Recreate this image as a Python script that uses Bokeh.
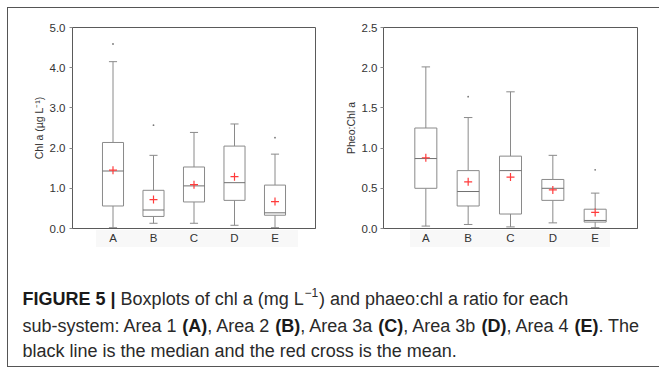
from bokeh.plotting import figure
from bokeh.models import Range1d, FixedTicker, PrintfTickFormatter
from bokeh.layouts import column, row
from bokeh.embed import file_html
from bokeh.resources import INLINE
from bokeh.core.properties import value

# Sub-systems
areas = ["A", "B", "C", "D", "E"]

# Chl a (µg L-1) box statistics per area
chl_whisker_low = [0.02, 0.13, 0.13, 0.08, 0.02]
chl_q1 = [0.56, 0.30, 0.66, 0.70, 0.33]
chl_median = [1.43, 0.46, 1.06, 1.14, 0.39]
chl_q3 = [2.14, 0.95, 1.53, 2.05, 1.08]
chl_whisker_high = [4.15, 1.82, 2.39, 2.60, 1.85]
chl_mean = [1.45, 0.72, 1.09, 1.29, 0.67]
chl_outlier_area = ["A", "B", "E"]
chl_outlier_value = [4.59, 2.57, 2.26]

# Pheo:Chl a ratio box statistics per area
pheo_whisker_low = [0.03, 0.05, 0.02, 0.07, 0.01]
pheo_q1 = [0.50, 0.28, 0.18, 0.35, 0.08]
pheo_median = [0.87, 0.46, 0.72, 0.50, 0.10]
pheo_q3 = [1.25, 0.72, 0.90, 0.61, 0.24]
pheo_whisker_high = [2.01, 1.38, 1.70, 0.91, 0.44]
pheo_mean = [0.88, 0.58, 0.64, 0.48, 0.20]
pheo_outlier_area = ["B", "E"]
pheo_outlier_value = [1.64, 0.73]

chl_ticks = [0.0, 1.0, 2.0, 3.0, 4.0, 5.0]
pheo_ticks = [0.0, 0.5, 1.0, 1.5, 2.0, 2.5]

FONT = "Liberation Sans"
BOX_W = 0.52
CAP_W = 0.2
LINE = "#8a8a8a"
MED = "#707070"
FRAME = "#5a5a5a"
TXT = "#333333"

# thin rules of the panel frame (top, left, bottom) and the faint bands
# behind the category labels, painted behind the transparent plot borders
RULE = "linear-gradient(#555555, #555555)"
BAND = "linear-gradient(#f8f8f8, #f8f8f8)"
PANEL_STYLE = {
    "background": (f"{RULE} 7px 7px / 652px 1px no-repeat, "
                   f"{RULE} 7px 7px / 1px 360px no-repeat, "
                   f"{RULE} 7px 366px / 652px 1px no-repeat, "
                   f"{BAND} 96px 230px / 202px 17px no-repeat, "
                   f"{BAND} 410px 230px / 200px 17px no-repeat, #ffffff"),
}


def boxplot(width, height, left, right, y_max, ticks, ylabel,
            lo, q1, med, q3, hi, mean, out_area, out_val, tick_standoff):
    pos = list(range(1, len(areas) + 1))
    p = figure(width=width, height=height, x_range=Range1d(0, len(areas) + 1),
               y_range=Range1d(0, y_max), toolbar_location=None,
               output_backend="svg", min_border_left=left,
               min_border_right=right, min_border_top=27,
               min_border_bottom=22, background_fill_color="white",
               border_fill_color=None)
    p.grid.visible = False
    p.outline_line_color = FRAME
    p.outline_line_width = 1

    # x axis: areas at integer positions
    p.xaxis.ticker = FixedTicker(ticks=pos)
    p.xaxis.major_label_overrides = {k: a for k, a in zip(pos, areas)}
    p.xaxis.major_tick_line_color = None
    p.xaxis.major_tick_out = 0
    p.xaxis.major_tick_in = 0
    p.xaxis.minor_tick_line_color = None
    p.xaxis.major_label_standoff = 3

    # y axis
    p.yaxis.ticker = FixedTicker(ticks=ticks)
    p.yaxis.formatter = PrintfTickFormatter(format="%.1f")
    p.yaxis.minor_tick_line_color = None
    p.yaxis.major_tick_out = 3
    p.yaxis.major_tick_in = 0
    p.yaxis.major_tick_line_color = LINE
    p.yaxis.major_label_standoff = tick_standoff
    p.yaxis.axis_label = ylabel
    p.yaxis.axis_label_standoff = 2
    p.yaxis.axis_label_text_font = FONT
    p.yaxis.axis_label_text_font_style = "normal"
    p.yaxis.axis_label_text_font_size = "10.5px"
    p.yaxis.axis_label_text_color = TXT

    for ax in (p.xaxis, p.yaxis):
        ax.axis_line_color = FRAME
        ax.major_label_text_font = FONT
        ax.major_label_text_color = TXT
    p.yaxis.major_label_text_font_size = "11.5px"
    p.xaxis.major_label_text_font_size = "11.5px"

    # whiskers and caps
    p.segment(x0=pos, y0=q3, x1=pos, y1=hi, line_color=LINE, line_width=1)
    p.segment(x0=pos, y0=lo, x1=pos, y1=q1, line_color=LINE, line_width=1)
    xl = [x - CAP_W / 2 for x in pos]
    xr = [x + CAP_W / 2 for x in pos]
    p.segment(x0=xl, y0=hi, x1=xr, y1=hi, line_color=LINE, line_width=1)
    p.segment(x0=xl, y0=lo, x1=xr, y1=lo, line_color=LINE, line_width=1)

    # boxes and medians
    p.vbar(x=pos, width=BOX_W, bottom=q1, top=q3, fill_color="white",
           line_color=LINE, line_width=1)
    bl = [x - BOX_W / 2 for x in pos]
    br = [x + BOX_W / 2 for x in pos]
    p.segment(x0=bl, y0=med, x1=br, y1=med, line_color=MED, line_width=1)

    # outliers
    ox = [areas.index(a) + 1 for a in out_area]
    p.scatter(x=ox, y=out_val, marker="circle", size=1.8, fill_color="#777777",
              line_color=None)

    # means
    p.scatter(x=pos, y=mean, marker="cross", size=8, line_color="#ff3b3b",
              line_width=1.2)
    return p


p1 = boxplot(330, 250, 72, 15, 5.0, chl_ticks, "Chl a (µg L⁻¹)",
             chl_whisker_low, chl_q1, chl_median, chl_q3, chl_whisker_high,
             chl_mean, chl_outlier_area, chl_outlier_value, 4)
p2 = boxplot(329, 250, 53, 22, 2.5, pheo_ticks, "Pheo:Chl a",
             pheo_whisker_low, pheo_q1, pheo_median, pheo_q3, pheo_whisker_high,
             pheo_mean, pheo_outlier_area, pheo_outlier_value, 3)

# caption
cap = figure(width=659, height=119, x_range=Range1d(0, 659),
             y_range=Range1d(119, 0), toolbar_location=None,
             output_backend="svg", min_border=0,
             background_fill_color=None, border_fill_color=None)
cap.axis.visible = False
cap.grid.visible = False
cap.outline_line_color = None

base = [48.5, 75, 100.5]
bold_text = ["FIGURE 5 |", "(A)", "(B)", "(C)", "(D)", "(E)"]
bold_x = [22, 181.8, 274.8, 377.8, 480.9, 573.9]
bold_line = [0, 1, 1, 1, 1, 1]
reg_text = ["Boxplots of chl a (mg L", ") and phaeo:chl a ratio for each",
            "sub-system: Area 1", ", Area 2", ", Area 3a", ", Area 3b",
            ", Area 4", ". The",
            "black line is the median and the red cross is the mean."]
reg_x = [120.1, 318.5, 22, 206.8, 299.8, 402.8, 505.9, 597.9, 22]
reg_line = [0, 0, 1, 1, 1, 1, 1, 1, 2]

cap.text(x=bold_x, y=[base[i] for i in bold_line], text=bold_text,
         text_font=value(FONT), text_font_style="bold", text_font_size="18px",
         text_color="#1a1a1a", text_baseline="alphabetic", text_align="left")
cap.text(x=reg_x, y=[base[i] for i in reg_line], text=reg_text,
         text_font=value(FONT), text_font_size="18px", text_color="#2a2a2a",
         text_baseline="alphabetic", text_align="left")
cap.text(x=[304], y=[base[0] - 7], text=["−1"], text_font=value(FONT),
         text_font_size="12px", text_color="#2a2a2a",
         text_baseline="alphabetic", text_align="left")

layout = column(row(p1, p2), cap, styles=PANEL_STYLE)
open("out.html", "w").write(file_html(layout, INLINE))
